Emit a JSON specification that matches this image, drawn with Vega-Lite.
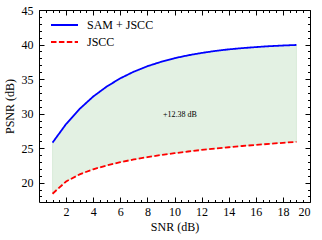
{
  "$schema": "https://vega.github.io/schema/vega-lite/v6.json",
  "width": 271,
  "height": 192,
  "autosize": "none",
  "padding": {"left": 39, "top": 10, "right": 12, "bottom": 38},
  "background": "white",
  "view": {"stroke": null},
  "config": {
    "font": "Liberation Serif, Times New Roman, serif",
    "axis": {
      "grid": false,
      "domainColor": "black",
      "domainWidth": 1,
      "tickColor": "black",
      "tickWidth": 1,
      "labelFont": "Liberation Serif, Times New Roman, serif",
      "labelFontSize": 12,
      "labelColor": "black",
      "titleFont": "Liberation Serif, Times New Roman, serif",
      "titleFontSize": 12,
      "titleFontWeight": "normal",
      "titleColor": "black"
    },
    "legend": {
      "labelFont": "Liberation Serif, Times New Roman, serif",
      "labelFontSize": 12,
      "labelFontWeight": "normal",
      "labelColor": "black"
    },
    "text": {"font": "Liberation Serif, Times New Roman, serif"}
  },
  "data": {
    "values": [
      {"snr": 1, "SAM + JSCC": 25.8, "JSCC": 18.4},
      {"snr": 2, "SAM + JSCC": 28.49, "JSCC": 20.17},
      {"snr": 3, "SAM + JSCC": 30.68, "JSCC": 21.2},
      {"snr": 4, "SAM + JSCC": 32.47, "JSCC": 21.94},
      {"snr": 5, "SAM + JSCC": 33.92, "JSCC": 22.5},
      {"snr": 6, "SAM + JSCC": 35.11, "JSCC": 22.97},
      {"snr": 7, "SAM + JSCC": 36.07, "JSCC": 23.36},
      {"snr": 8, "SAM + JSCC": 36.86, "JSCC": 23.7},
      {"snr": 9, "SAM + JSCC": 37.49, "JSCC": 24.0},
      {"snr": 10, "SAM + JSCC": 38.02, "JSCC": 24.27},
      {"snr": 11, "SAM + JSCC": 38.44, "JSCC": 24.51},
      {"snr": 12, "SAM + JSCC": 38.78, "JSCC": 24.74},
      {"snr": 13, "SAM + JSCC": 39.07, "JSCC": 24.94},
      {"snr": 14, "SAM + JSCC": 39.3, "JSCC": 25.13},
      {"snr": 15, "SAM + JSCC": 39.48, "JSCC": 25.31},
      {"snr": 16, "SAM + JSCC": 39.63, "JSCC": 25.47},
      {"snr": 17, "SAM + JSCC": 39.76, "JSCC": 25.62},
      {"snr": 18, "SAM + JSCC": 39.86, "JSCC": 25.77},
      {"snr": 19, "SAM + JSCC": 39.94, "JSCC": 25.91}
    ]
  },
  "resolve": {"axis": {"x": "independent", "y": "independent"}},
  "layer": [
    {
      "mark": {"type": "area", "color": "#008000", "fillOpacity": 0.11, "stroke": "#008000", "strokeOpacity": 0.1, "strokeWidth": 1},
      "encoding": {
        "x": {"field": "snr", "type": "quantitative", "scale": {"domain": [0, 20], "nice": false, "zero": false},
          "axis": {"orient": "bottom", "values": [2,4,6,8,10,12,14,16,18,20], "tickSize": -5, "labelPadding": 9, "title": "SNR (dB)", "titlePadding": 4}},
        "y": {"field": "SAM + JSCC", "type": "quantitative", "scale": {"domain": [17.2, 45], "nice": false, "zero": false},
          "axis": {"orient": "left", "values": [20,25,30,35,40,45], "tickSize": -5, "labelPadding": 11, "title": "PSNR (dB)", "titlePadding": 5}},
        "y2": {"field": "JSCC"}
      }
    },
    {
      "transform": [{"fold": ["SAM + JSCC", "JSCC"], "as": ["series", "psnr"]}, {"filter": "datum.series === 'SAM + JSCC'"}],
      "mark": {"type": "line", "strokeWidth": 1.8},
      "encoding": {
        "x": {"field": "snr", "type": "quantitative",
          "axis": {"orient": "bottom", "values": [0.5,1,1.5,2.5,3,3.5,4.5,5,5.5,6.5,7,7.5,8.5,9,9.5,10.5,11,11.5,12.5,13,13.5,14.5,15,15.5,16.5,17,17.5,18.5,19,19.5], "tickSize": -2.5, "labels": false, "domain": false, "title": null}},
        "y": {"field": "psnr", "type": "quantitative",
          "axis": {"orient": "left", "values": [18,19,21,22,23,24,26,27,28,29,31,32,33,34,36,37,38,39,41,42,43,44], "tickSize": -2.5, "labels": false, "domain": false, "title": null}},
        "color": {"field": "series", "type": "nominal", "scale": {"domain": ["SAM + JSCC", "JSCC"], "range": ["#0000ff", "#ff0000"]},
          "legend": {"orient": "none", "legendX": 11, "legendY": 6.5, "title": null, "symbolType": "stroke", "symbolSize": 729, "symbolStrokeWidth": 1.8, "labelOffset": 8, "padding": 0, "rowPadding": 0, "clipHeight": 17}},
        "strokeDash": {"field": "series", "type": "nominal", "scale": {"domain": ["SAM + JSCC", "JSCC"], "range": [[1, 0], [5.5, 2.4]]},
          "legend": {"orient": "none", "legendX": 11, "legendY": 6.5, "title": null, "symbolType": "stroke", "symbolSize": 729, "symbolStrokeWidth": 1.8, "labelOffset": 8, "padding": 0, "rowPadding": 0, "clipHeight": 17}}
      }
    },
    {
      "transform": [{"fold": ["SAM + JSCC", "JSCC"], "as": ["series", "psnr"]}, {"filter": "datum.series === 'JSCC'"}],
      "mark": {"type": "line", "strokeWidth": 1.8},
      "encoding": {
        "x": {"field": "snr", "type": "quantitative",
          "axis": {"orient": "top", "values": [0,2,4,6,8,10,12,14,16,18,20], "tickSize": -5, "labels": false, "title": null}},
        "y": {"field": "psnr", "type": "quantitative",
          "axis": {"orient": "right", "values": [20,25,30,35,40,45], "tickSize": -5, "labels": false, "title": null}},
        "color": {"field": "series", "type": "nominal"},
        "strokeDash": {"field": "series", "type": "nominal"}
      }
    },
    {
      "data": {"values": [{"snr": 10.4, "psnr": 29.8, "label": "+12.38 dB"}]},
      "mark": {"type": "text", "font": "Liberation Serif, Times New Roman, serif", "fontSize": 8, "color": "black", "align": "center", "baseline": "middle"},
      "encoding": {
        "x": {"field": "snr", "type": "quantitative",
          "axis": {"orient": "top", "values": [0.5,1,1.5,2.5,3,3.5,4.5,5,5.5,6.5,7,7.5,8.5,9,9.5,10.5,11,11.5,12.5,13,13.5,14.5,15,15.5,16.5,17,17.5,18.5,19,19.5], "tickSize": -2.5, "labels": false, "domain": false, "title": null}},
        "y": {"field": "psnr", "type": "quantitative",
          "axis": {"orient": "right", "values": [18,19,21,22,23,24,26,27,28,29,31,32,33,34,36,37,38,39,41,42,43,44], "tickSize": -2.5, "labels": false, "domain": false, "title": null}},
        "text": {"field": "label"}
      }
    }
  ]
}
